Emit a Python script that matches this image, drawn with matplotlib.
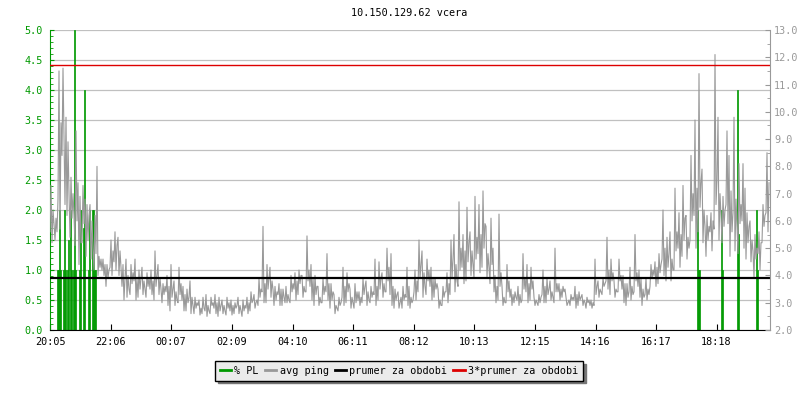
import numpy as np
import matplotlib.pyplot as plt
from matplotlib.lines import Line2D
from matplotlib.ticker import MultipleLocator, FormatStrFormatter

# -----------------------------
# DATA
# -----------------------------
title = "10.150.129.62 vcera"

# x axis: minutes since 20:05
tick_minutes = [0, 121, 242, 364, 485, 606, 727, 848, 970, 1091, 1212, 1333]
tick_labels = ["20:05", "22:06", "00:07", "02:09", "04:10", "06:11",
               "08:12", "10:13", "12:15", "14:16", "16:17", "18:18"]

# avg ping [ms], one sample every 2 minutes (one row = 40 minutes)
avg_ping = [
    # 20:05
    5.6, 7.3, 5.2, 6.4, 5.9, 5.3, 6.1, 5.6, 6.8, 11.5, 5.7, 9.6, 8.4, 11.6, 9.2, 6.6, 9.8, 6.2, 8.9, 7.0,
    5.4, 7.6, 6.1, 7.0, 6.2, 5.1, 9.3, 6.0, 7.4, 4.4, 6.9, 5.2, 5.2, 7.3, 5.9, 6.8, 4.7, 6.6, 5.3, 6.2,
    6.6, 4.6, 6.0, 5.0, 4.2, 6.2, 4.8, 8.0, 4.0, 4.7, 4.3, 4.6, 4.2, 4.6, 4.0, 4.4, 3.6, 4.4, 3.9, 4.2,
    4.3, 5.3, 4.0, 4.9, 4.5, 5.6, 4.2, 5.1, 5.4, 4.0, 4.9, 4.3, 3.6, 4.4, 3.1, 3.9, 4.6, 3.2, 4.0, 3.5,
    3.3, 4.4, 3.7, 4.1, 3.8, 4.6, 3.1, 3.9, 3.2, 4.2, 3.5, 3.9, 4.3, 3.3, 3.8, 3.5, 3.2, 4.1, 3.6, 3.9,
    3.5, 4.2, 3.3, 3.8, 3.1, 4.9, 3.6, 4.0, 4.4, 3.3, 3.9, 3.5, 3.0, 3.7, 3.3, 3.6, 3.4, 4.0, 2.9, 3.6,
    2.7, 4.4, 3.2, 3.5, 3.8, 2.9, 3.4, 3.1, 3.0, 4.3, 3.3, 3.7, 3.1, 3.6, 2.7, 3.3, 2.7, 3.5, 3.0, 3.2,
    3.8, 2.6, 3.2, 2.9, 2.6, 3.2, 2.8, 3.0, 2.9, 3.1, 2.55, 2.8, 2.6, 3.2, 2.8, 2.7, 3.3, 2.5, 2.9, 2.7,
    2.6, 3.2, 2.9, 3.0, 2.8, 3.3, 2.6, 3.0, 2.5, 3.2, 2.7, 2.9, 3.1, 2.6, 2.9, 2.7, 2.55, 3.2, 2.8, 3.0,
    # 02:05
    2.7, 3.1, 2.55, 2.9, 2.6, 3.0, 2.8, 2.9, 3.2, 2.6, 2.9, 2.7, 2.5, 3.1, 2.7, 2.9, 2.8, 3.2, 2.6, 3.0,
    2.7, 3.4, 3.0, 3.1, 3.3, 2.8, 3.0, 3.1, 2.9, 3.9, 3.2, 3.5, 3.4, 5.8, 3.0, 3.7, 3.0, 4.4, 3.5, 3.9,
    4.3, 3.2, 3.8, 3.5, 2.9, 3.6, 3.1, 3.4, 3.3, 3.7, 2.9, 3.5, 2.9, 3.5, 3.2, 3.0, 3.6, 3.0, 3.3, 3.1,
    3.0, 4.0, 3.4, 3.7, 3.5, 4.1, 3.1, 3.8, 3.3, 4.2, 3.7, 4.0, 4.0, 3.2, 3.6, 3.4, 3.4, 5.45, 3.8, 4.2,
    3.6, 4.4, 3.1, 3.9, 2.9, 4.0, 3.3, 3.6, 3.6, 2.9, 3.2, 3.0, 3.0, 3.9, 3.3, 3.6, 3.4, 4.8, 3.1, 3.7,
    2.8, 3.7, 3.1, 3.4, 3.3, 2.6, 2.9, 2.8, 2.7, 3.2, 2.9, 3.0, 3.2, 4.3, 2.9, 3.6, 3.0, 4.1, 3.4, 3.7,
    3.5, 2.8, 3.2, 3.0, 2.8, 3.7, 3.0, 3.4, 3.1, 3.4, 2.9, 3.2, 3.0, 3.9, 3.3, 3.6, 3.8, 2.9, 3.4, 3.1,
    3.0, 3.6, 3.2, 3.4, 3.3, 4.6, 2.9, 3.6, 3.1, 4.5, 3.5, 3.9, 4.1, 3.2, 3.7, 3.4, 3.4, 5.0, 3.8, 4.3,
    3.3, 4.8, 2.9, 3.6, 2.8, 3.5, 3.1, 3.3, 3.4, 2.8, 3.0, 3.2, 2.8, 3.6, 3.1, 3.3, 3.2, 4.3, 2.9, 3.6,
    # 08:05
    2.8, 3.2, 3.0, 3.1, 3.4, 4.2, 3.1, 3.8, 3.4, 5.3, 3.9, 4.4, 4.9, 3.2, 4.1, 3.6, 3.3, 4.6, 3.8, 4.2,
    3.6, 4.3, 3.1, 3.9, 3.2, 3.9, 3.5, 3.7, 3.5, 2.8, 3.1, 2.9, 2.9, 3.6, 3.2, 3.4, 3.4, 4.1, 3.0, 3.7,
    3.3, 5.3, 3.9, 4.6, 5.5, 3.4, 4.4, 3.8, 3.6, 6.7, 4.2, 5.0, 4.3, 5.5, 3.7, 4.9, 3.8, 6.5, 4.5, 5.2,
    5.6, 4.0, 4.9, 4.4, 3.9, 6.9, 4.6, 5.4, 4.8, 6.6, 4.1, 5.5, 4.3, 7.1, 5.0, 5.9, 5.8, 3.9, 4.8, 4.3,
    3.7, 6.1, 4.4, 5.0, 3.4, 4.0, 3.0, 3.6, 3.1, 6.25, 3.6, 4.1, 3.6, 2.9, 3.2, 3.0, 3.0, 4.4, 3.4, 3.8,
    3.2, 3.5, 2.9, 3.3, 3.0, 3.4, 3.2, 3.1, 3.6, 2.9, 3.3, 3.0, 3.1, 4.8, 3.5, 3.9, 3.4, 4.4, 3.0, 3.7,
    3.1, 4.3, 3.5, 3.8, 3.2, 2.9, 3.1, 3.0, 2.9, 3.3, 3.0, 3.2, 3.3, 4.2, 3.0, 3.6, 3.0, 3.9, 3.3, 3.5,
    3.8, 3.1, 3.4, 3.2, 3.0, 5.0, 3.4, 3.7, 3.4, 3.7, 3.1, 3.5, 3.2, 3.6, 3.4, 3.5, 3.2, 2.9, 3.0, 3.1,
    2.9, 3.3, 3.1, 3.2, 3.1, 3.6, 2.8, 3.3, 2.9, 3.4, 3.1, 3.2, 3.3, 2.9, 3.1, 3.0, 2.8, 3.2, 3.0, 3.1,
    # 14:05
    2.9, 3.1, 2.8, 3.0, 2.9, 4.6, 3.3, 3.6, 3.8, 3.2, 3.5, 3.4, 3.3, 3.9, 3.6, 3.7, 3.8, 5.4, 3.5, 4.2,
    3.3, 4.6, 3.8, 4.1, 3.8, 3.2, 3.5, 3.4, 3.4, 4.6, 3.8, 4.0, 3.5, 4.0, 3.0, 3.7, 2.9, 3.7, 3.2, 3.4,
    4.3, 3.1, 3.6, 3.3, 3.4, 5.5, 3.8, 4.1, 3.6, 4.2, 3.2, 3.9, 2.9, 3.5, 3.2, 3.3, 3.9, 3.1, 3.5, 3.3,
    3.6, 4.4, 3.9, 4.2, 4.0, 4.5, 3.6, 4.3, 3.7, 4.8, 4.1, 4.4, 4.6, 6.4, 4.0, 5.0, 3.8, 5.4, 4.3, 4.8,
    5.6, 3.8, 4.6, 4.2, 4.2, 7.2, 4.9, 5.6, 5.0, 6.3, 4.3, 5.5, 4.7, 7.3, 5.3, 6.1, 6.2, 4.6, 5.4, 5.0,
    5.3, 8.4, 6.0, 7.0, 6.2, 9.7, 5.0, 7.2, 5.6, 11.4, 6.5, 7.4, 7.9, 5.2, 6.4, 5.8, 4.7, 6.2, 5.3, 5.8,
    5.6, 6.3, 4.9, 6.0, 5.7, 12.1, 6.6, 7.5, 9.8, 5.3, 7.0, 6.2, 5.2, 6.9, 5.8, 6.4, 6.6, 9.3, 5.9, 8.4,
    4.7, 7.1, 5.6, 6.3, 9.8, 4.9, 6.8, 5.8, 4.8, 8.1, 5.9, 6.6, 6.0, 8.1, 5.0, 7.2, 4.6, 6.3, 5.2, 5.8,
    6.0, 4.5, 5.3, 4.9, 3.9, 5.5, 4.6, 5.0, 4.8, 5.6, 4.2, 5.2, 5.2, 6.6, 5.8, 6.2, 6.3, 8.5, 5.6, 7.4,
]
ping_minutes = np.arange(len(avg_ping)) * 2

# packet loss [%], samples every 2 minutes where loss > 0
pl_minutes = [14, 16, 18, 20, 26, 28, 30, 34, 36, 40, 42, 46, 48, 50,
              58, 60, 66, 68, 76, 78, 84, 86, 88, 90,
              1294, 1296, 1298, 1342, 1344, 1374, 1376, 1412, 1414]
pl_values = [1, 1, 2, 1, 1, 2, 1, 1, 1.5, 2, 1, 1, 5, 1,
             1, 2, 1.7, 4, 1, 2, 2, 2, 1, 1,
             2, 1, 1, 2, 1, 4, 1.6, 2, 1]

mean_ping = 3.9

GREEN = "#009900"
GREY = "#999999"
RED = "#dd0000"

plt.rcParams["font.family"] = "DejaVu Sans Mono"
plt.rcParams["font.size"] = 7.3

# -----------------------------
# CHART
# -----------------------------
fig = plt.figure(figsize=(8, 4), dpi=100)
ax = fig.add_axes([50 / 800, 70 / 400, 720 / 800, 300 / 400])
ax2 = ax.twinx()

ax.bar(pl_minutes, pl_values, width=2, align="edge", color=GREEN,
       edgecolor=GREEN, linewidth=0.5)
ax.set_ylim(0, 5)
ax.set_xlim(0, 1440)
ax.yaxis.set_major_locator(MultipleLocator(0.5))
ax.yaxis.set_minor_locator(MultipleLocator(0.1))
ax.yaxis.set_major_formatter(FormatStrFormatter("%.1f"))
ax.yaxis.grid(True, color="#c0c0c0", linewidth=0.9)
ax.set_axisbelow(True)
ax.set_xticks(tick_minutes)
ax.set_xticklabels(tick_labels)

ax2.plot(ping_minutes, avg_ping, color=GREY, linewidth=0.8)
ax2.axhline(mean_ping, color="black", linewidth=1.6)
ax2.axhline(3 * mean_ping, color=RED, linewidth=1.0)
ax2.set_ylim(2, 13)
ax2.yaxis.set_major_locator(MultipleLocator(1))
ax2.yaxis.set_minor_locator(MultipleLocator(0.5))
ax2.yaxis.set_major_formatter(FormatStrFormatter("%.1f"))

for s in ["top", "right"]:
    ax.spines[s].set_visible(False)
for s in ["top", "left", "bottom"]:
    ax2.spines[s].set_visible(False)
ax.spines["left"].set_color(GREEN)
ax.spines["bottom"].set_color("black")
ax2.spines["right"].set_color(GREY)

ax.tick_params(axis="y", which="major", direction="in", length=3, color=GREEN,
               labelcolor=GREEN, pad=5)
ax.tick_params(axis="y", which="minor", direction="in", length=1.8, color=GREEN)
ax.tick_params(axis="x", direction="in", length=4, color="black", pad=5)
ax2.tick_params(axis="y", which="major", direction="in", length=3.5, color=GREY,
                labelcolor=GREY, pad=3)
ax2.tick_params(axis="y", which="minor", direction="in", length=2, color=GREY)

fig.text(409 / 800, 1 - 13 / 400, title, ha="center", va="center")

handles = [Line2D([], [], color=GREEN, lw=2),
           Line2D([], [], color=GREY, lw=2),
           Line2D([], [], color="black", lw=2),
           Line2D([], [], color=RED, lw=2)]
labels = ["% PL", "avg ping", "prumer za obdobi", "3*prumer za obdobi"]
leg = fig.legend(handles, labels, loc="center", bbox_to_anchor=(399 / 800, 29 / 400),
                 ncol=4, fancybox=False, framealpha=1, facecolor="#ebebeb",
                 edgecolor="black", handlelength=1.1, handletextpad=0.35,
                 columnspacing=0.6, borderpad=0.45,
                 shadow={"color": "#777777", "alpha": 1})
leg.get_frame().set_linewidth(1.0)

fig.savefig("out.png", dpi=100)
plt.close(fig)
